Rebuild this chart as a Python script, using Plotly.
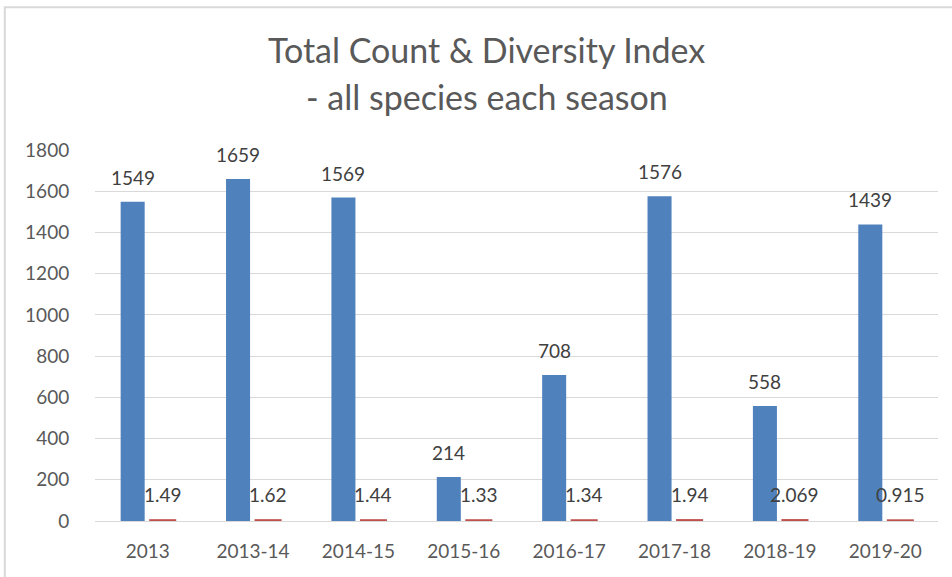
import plotly.graph_objects as go

# Seasonal survey totals and Shannon diversity index
seasons = ["2013", "2013-14", "2014-15", "2015-16", "2016-17", "2017-18", "2018-19", "2019-20"]
total_count = [1549, 1659, 1569, 214, 708, 1576, 558, 1439]
diversity_index = [1.49, 1.62, 1.44, 1.33, 1.34, 1.94, 2.069, 0.915]
diversity_labels = ["1.49", "1.62", "1.44", "1.33", "1.34", "1.94", "2.069", "0.915"]
y_ticks = [0, 200, 400, 600, 800, 1000, 1200, 1400, 1600, 1800]

BLUE = "#4f81bd"
RED = "#c0504d"
TEXT = "#595959"
GRID = "#d9d9d9"
FONT = "Lato, 'Open Sans', sans-serif"

fig = go.Figure(layout=dict(xaxis=dict(type="category", categoryorder="array", categoryarray=seasons)))
fig.add_trace(go.Bar(
    x=seasons, y=total_count, name="Total Count",
    marker=dict(color=BLUE, line=dict(width=0)),
))
fig.add_trace(go.Bar(
    x=seasons, y=diversity_index, name="Diversity Index",
    marker=dict(color=RED, line=dict(color=RED, width=3)),
))

# Data labels above each bar (positioned by category index on the category axis)
annotations = []
for i, v in enumerate(total_count):
    annotations.append(dict(
        x=i, y=v, xref="x", yref="y", text=str(v), showarrow=False,
        xanchor="center", yanchor="bottom", xshift=-15, yshift=11,
        font=dict(family=FONT, size=19, color="#404040"),
    ))
for i, (v, t) in enumerate(zip(diversity_index, diversity_labels)):
    annotations.append(dict(
        x=i, y=v, xref="x", yref="y", text=t, showarrow=False,
        xanchor="center", yanchor="bottom", xshift=15, yshift=13,
        font=dict(family=FONT, size=19, color="#404040"),
    ))

# Two-line chart title
annotations.append(dict(
    x=0.465, y=1.27, xref="paper", yref="paper", text="Total Count &amp; Diversity Index",
    showarrow=False, xanchor="center", yanchor="middle",
    font=dict(family=FONT, size=34, color=TEXT),
))
annotations.append(dict(
    x=0.465, y=1.143, xref="paper", yref="paper", text="- all species each season",
    showarrow=False, xanchor="center", yanchor="middle",
    font=dict(family=FONT, size=34, color=TEXT),
))

fig.update_layout(
    width=952, height=577,
    margin=dict(l=95, r=14, t=150, b=56),
    paper_bgcolor="white", plot_bgcolor="white",
    barmode="group", bargap=0.43, bargroupgap=0.2,
    showlegend=False,
    annotations=annotations,
    shapes=[dict(
        type="rect", xref="paper", yref="paper",
        x0=-0.107, x1=1.03, y0=-0.2, y1=1.385,
        line=dict(color=GRID, width=2), fillcolor="rgba(0,0,0,0)", layer="below",
    )],
    font=dict(family=FONT, color=TEXT),
)
fig.update_yaxes(
    range=[0, 1800], tickvals=y_ticks, showgrid=True, gridcolor=GRID, gridwidth=1,
    zeroline=True, zerolinecolor=GRID, zerolinewidth=1, showline=False,
    ticks="outside", ticklen=21, tickcolor="rgba(0,0,0,0)",
    tickfont=dict(family=FONT, size=19, color=TEXT),
)
fig.update_xaxes(
    showgrid=False, showline=False, ticks="outside", ticklen=13,
    tickcolor="rgba(0,0,0,0)",
    tickfont=dict(family=FONT, size=19, color=TEXT),
)

fig.write_html("out.html")
